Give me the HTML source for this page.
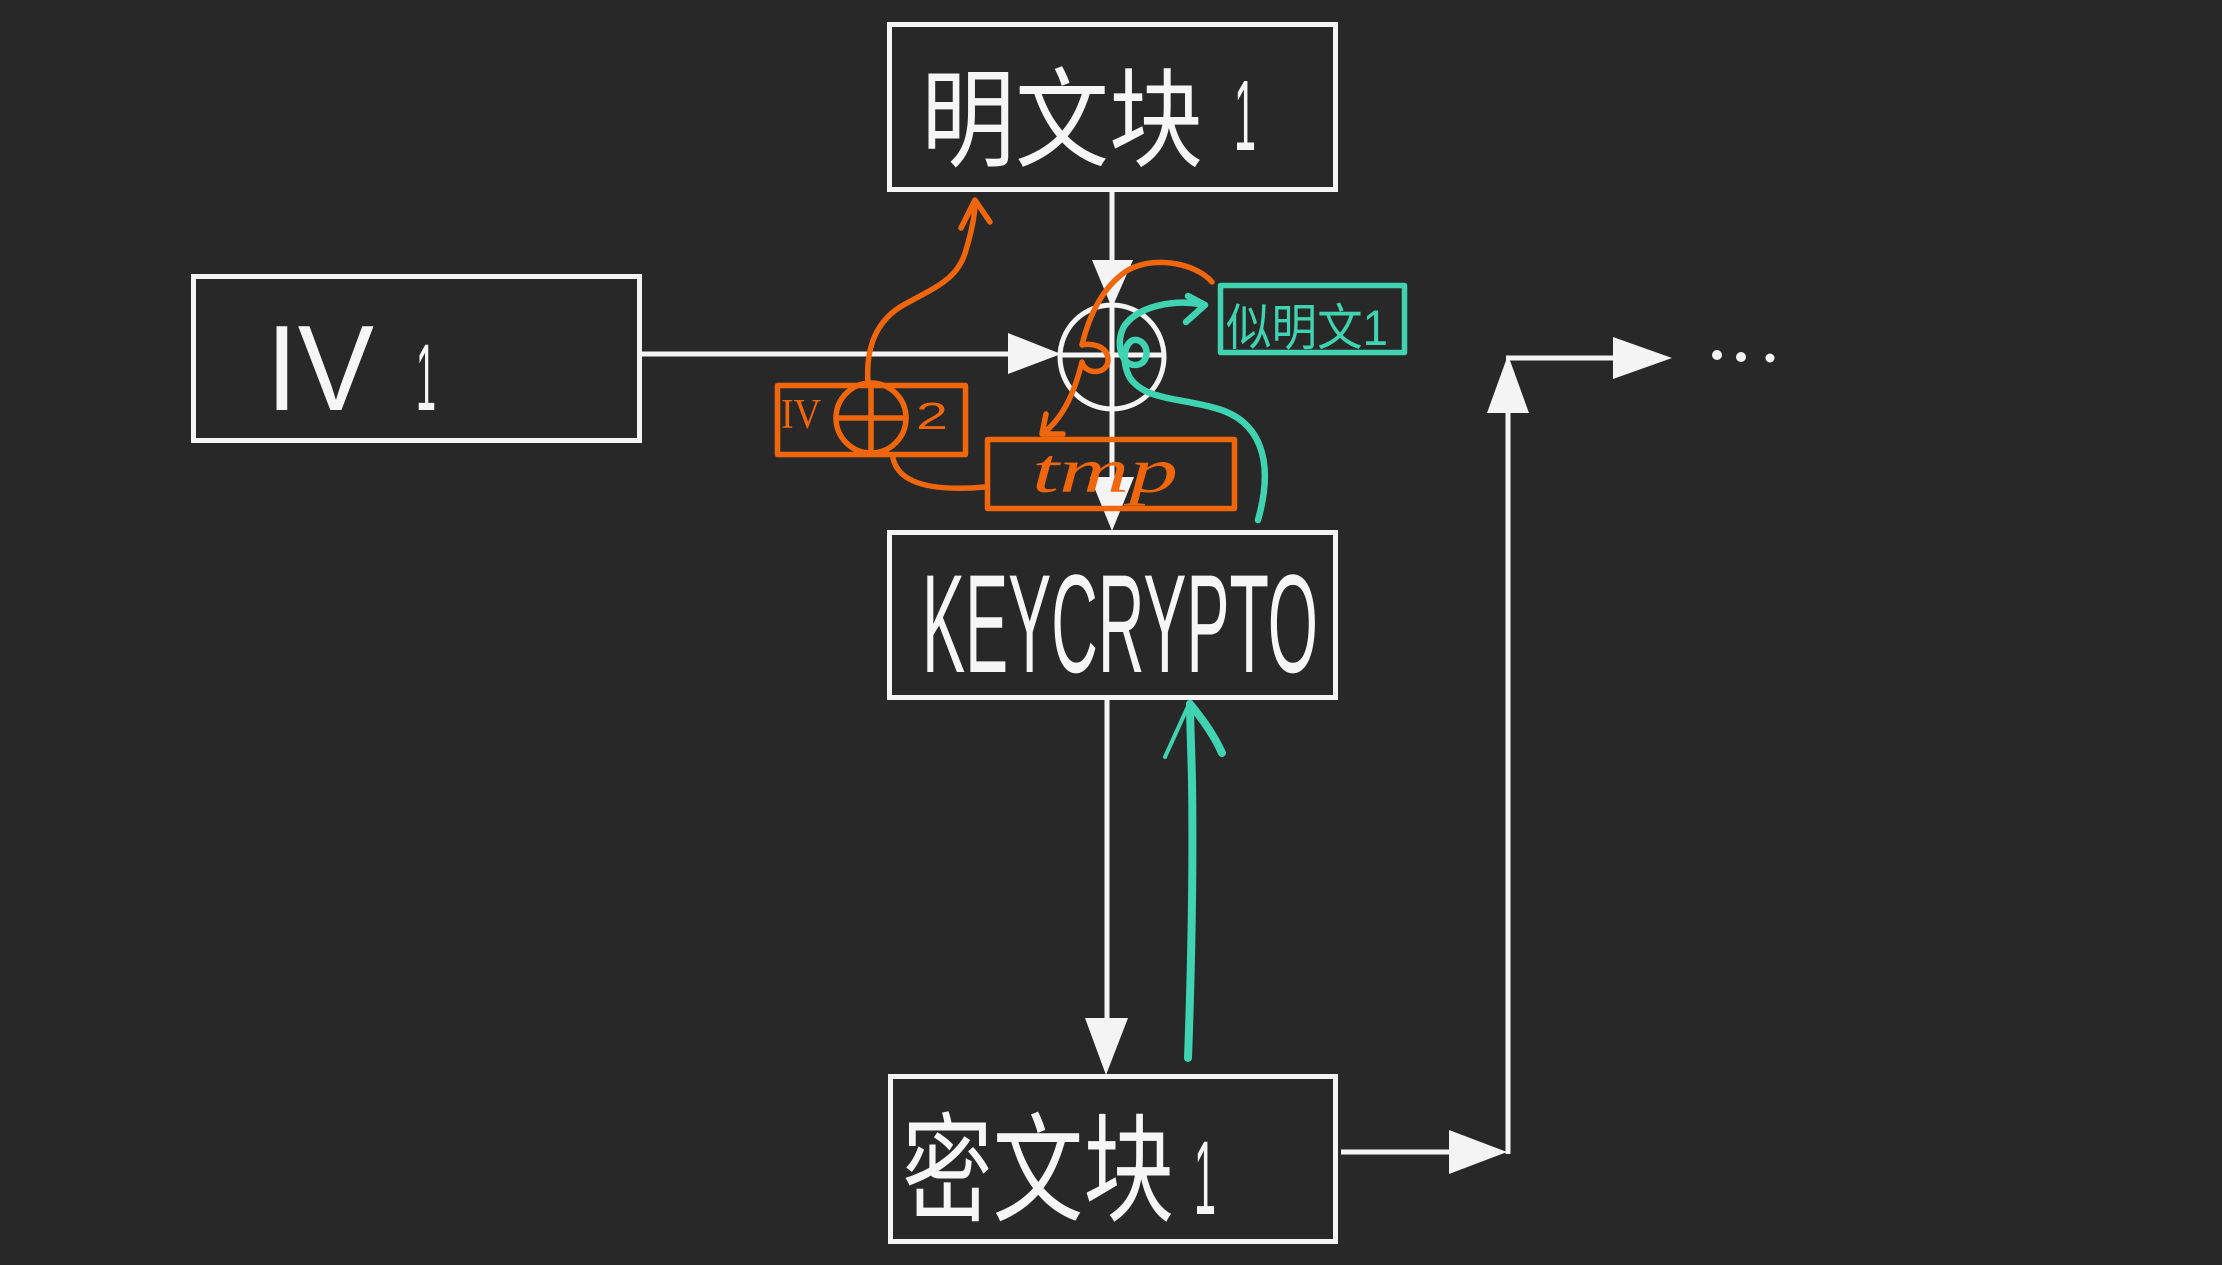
<!DOCTYPE html>
<html>
<head>
<meta charset="utf-8">
<style>
  html, body { margin: 0; padding: 0; background: #282828; }
  body { width: 2222px; height: 1265px; overflow: hidden; }
  svg { display: block; }
</style>
</head>
<body>
<svg width="2222" height="1265" viewBox="0 0 2222 1265" xmlns="http://www.w3.org/2000/svg">
  <rect x="0" y="0" width="2222" height="1265" fill="#282828"/>

  <!-- ===== White boxes ===== -->
  <g fill="none" stroke="#f4f4f4" stroke-width="5">
    <rect x="889.5" y="24.5" width="446" height="165"/>
    <rect x="193.5" y="276.5" width="446" height="164"/>
    <rect x="889.5" y="532.5" width="446" height="165"/>
    <rect x="890.5" y="1076.5" width="445" height="165"/>
  </g>

  <!-- ===== White connectors ===== -->
  <g stroke="#f4f4f4" stroke-width="5" fill="none">
    <!-- top box down to XOR -->
    <line x1="1112" y1="192" x2="1112" y2="300"/>
    <!-- XOR circle -->
    <circle cx="1112" cy="357" r="52"/>
    <line x1="1060" y1="355" x2="1164" y2="355"/>
    <line x1="1112" y1="305" x2="1112" y2="409"/>
    <!-- IV to XOR -->
    <line x1="642" y1="354" x2="1012" y2="354"/>
    <!-- XOR down to KEYCRYPTO -->
    <line x1="1112" y1="409" x2="1112" y2="480"/>
    <!-- KEYCRYPTO down to cipher -->
    <line x1="1107" y1="700" x2="1107" y2="1020"/>
    <!-- cipher right -->
    <line x1="1341" y1="1152" x2="1452" y2="1152"/>
    <!-- vertical up -->
    <line x1="1508" y1="1154" x2="1508" y2="410"/>
    <!-- horizontal right -->
    <line x1="1506" y1="358" x2="1616" y2="358"/>
  </g>
  <g fill="#f4f4f4">
    <!-- arrowheads -->
    <polygon points="1092,260 1133,260 1112,308"/>
    <polygon points="1008,333 1008,374 1061,354"/>
    <polygon points="1090,477 1134,477 1112,531"/>
    <polygon points="1085,1018 1128,1018 1106,1075"/>
    <polygon points="1449,1130 1449,1174 1507,1152"/>
    <polygon points="1487,413 1529,413 1508,355"/>
    <polygon points="1613,337 1613,379 1672,358"/>
    <!-- dots -->
    <circle cx="1717" cy="355" r="5"/>
    <circle cx="1741" cy="357" r="5"/>
    <circle cx="1770" cy="358" r="4.5"/>
  </g>

  <!-- ===== White labels ===== -->
  <g fill="#f6f6f6">
    <text x="921" y="158" font-family="'Liberation Sans','Noto Sans CJK SC',sans-serif" font-size="108" textLength="282" lengthAdjust="spacingAndGlyphs">明文块</text>
    <text x="1234" y="150" font-family="'Liberation Sans',sans-serif" font-size="100" textLength="22" lengthAdjust="spacingAndGlyphs">1</text>

    <text x="266" y="410" font-family="'Liberation Sans',sans-serif" font-size="122" textLength="108" lengthAdjust="spacingAndGlyphs">IV</text>
    <text x="416" y="410" font-family="'Liberation Sans',sans-serif" font-size="95" textLength="20" lengthAdjust="spacingAndGlyphs">1</text>

    <text x="922" y="672" font-family="'Liberation Sans',sans-serif" font-size="140" textLength="396" lengthAdjust="spacingAndGlyphs">KEYCRYPTO</text>

    <text x="902" y="1212" font-family="'Liberation Sans','Noto Sans CJK SC',sans-serif" font-size="118" textLength="272" lengthAdjust="spacingAndGlyphs">密文块</text>
    <text x="1194" y="1214" font-family="'Liberation Sans',sans-serif" font-size="105" textLength="22" lengthAdjust="spacingAndGlyphs">1</text>
  </g>

  <!-- ===== Orange annotations ===== -->
  <g fill="none" stroke="#f0660c" stroke-width="5.5" stroke-linecap="round" stroke-linejoin="round">
    <rect x="777.5" y="385.5" width="188" height="69"/>
    <circle cx="871" cy="418" r="35"/>
    <line x1="836" y1="418" x2="906" y2="418"/>
    <line x1="871" y1="383" x2="871" y2="453"/>
    <rect x="987.5" y="439.5" width="247" height="69"/>
    <!-- upward arrow from IV xor 2 -->
    <path d="M868,383 C866,355 872,325 900,307 C935,287 958,280 966,250 C972,230 975,215 975,202"/>
    <path d="M961,228 L975,200 L990,222"/>
    <!-- bottom curve into tmp -->
    <path d="M893,458 C898,482 928,492 985,487"/>
    <!-- arc around XOR with b loop -->
    <path d="M1212,282 C1195,262 1150,255 1125,272 C1100,290 1088,320 1082,345 C1090,343 1108,345 1108,360 C1108,375 1085,375 1082,362 C1075,390 1065,415 1045,432"/>
    <path d="M1046,414 L1042,434 L1063,434"/>
  </g>
  <g fill="#f0660c">
    <text x="1032" y="492" font-family="'Liberation Serif',serif" font-style="italic" font-size="64" textLength="146" lengthAdjust="spacingAndGlyphs">tmp</text>
    <text x="781" y="428" font-family="'Liberation Serif',serif" font-size="42" textLength="40" lengthAdjust="spacingAndGlyphs">IV</text>
    <text x="916" y="429" font-family="'Liberation Sans',sans-serif" font-size="38" textLength="32" lengthAdjust="spacingAndGlyphs">2</text>
  </g>

  <!-- ===== Teal annotations ===== -->
  <g fill="none" stroke="#3fd3b1" stroke-linecap="round" stroke-linejoin="round">
    <rect x="1220.5" y="285.5" width="184" height="67" stroke-width="5.5"/>
    <path stroke-width="6.5" d="M1200,304 C1175,300 1140,305 1125,325 C1115,340 1120,365 1135,365 C1150,365 1150,343 1137,340 C1125,338 1120,360 1130,378 C1145,400 1180,398 1215,408 C1260,420 1275,460 1258,520"/>
    <path stroke-width="6.5" d="M1188,296 L1205,305 L1186,322"/>
    <path stroke-width="8" d="M1188,1058 C1192,950 1193,850 1192,780 C1191,740 1190,720 1190,704"/>
    <path stroke-width="4" d="M1165,757 L1190,702"/>
    <path stroke-width="8" d="M1190,704 C1200,716 1214,735 1222,753"/>
  </g>
  <text x="1226" y="345" fill="#3fd3b1" font-family="'Liberation Sans','Noto Sans CJK SC',sans-serif" font-size="50" textLength="162" lengthAdjust="spacingAndGlyphs">似明文1</text>
</svg>
</body>
</html>
